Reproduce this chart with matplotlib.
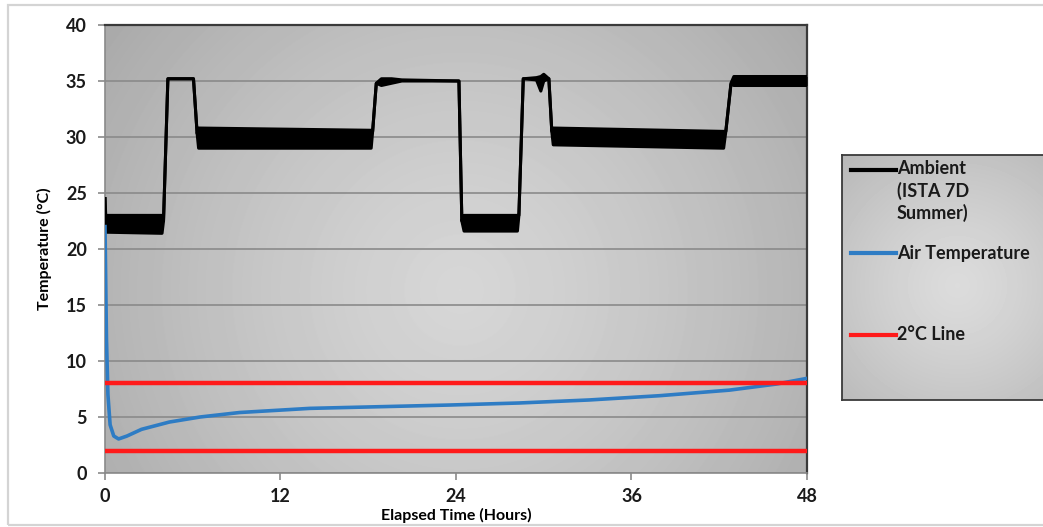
import matplotlib
matplotlib.use("Agg")
import matplotlib.pyplot as plt
import numpy as np
from matplotlib.patches import Rectangle
from matplotlib.lines import Line2D

# ---- data ----
# ambient (ISTA 7D summer): envelope of the noisy trace, lower / upper
amb_t  = [0.0, 0.05, 3.9, 4.0, 4.3, 6.05, 6.3, 6.4, 18.2, 18.3, 18.55, 18.9, 19.6, 20.3,
          24.2, 24.4, 24.55, 28.2, 28.3, 28.6, 29.5, 29.8, 30.0, 30.35, 30.55, 30.65,
          42.3, 42.45, 42.8, 43.0, 48.0]
amb_lo = [24.5, 21.5, 21.4, 22.5, 35.2, 35.2, 30.3, 29.0, 29.0, 30.5, 34.8, 34.6, 34.8, 35.0,
          35.0, 22.5, 21.6, 21.6, 23.0, 35.2, 35.1, 34.1, 35.0, 35.2, 30.5, 29.3,
          29.0, 30.5, 34.7, 34.6, 34.6]
amb_hi = [24.5, 23.0, 23.0, 22.5, 35.2, 35.2, 30.3, 30.8, 30.6, 30.5, 34.8, 35.2, 35.2, 35.1,
          35.0, 22.5, 23.0, 23.0, 23.0, 35.2, 35.3, 35.4, 35.6, 35.2, 30.5, 30.8,
          30.5, 30.5, 34.8, 35.4, 35.4]

# air temperature
air_t = [0.0, 0.05, 0.1, 0.2, 0.35, 0.6, 0.93, 1.5, 2.5, 4.4, 6.5, 9.2, 14.0, 18.8,
         23.6, 28.3, 33.1, 37.9, 42.7, 45.9, 48.0]
air_v = [22.0, 17.0, 12.0, 7.0, 4.3, 3.3, 3.04, 3.3, 3.9, 4.55, 5.0, 5.4, 5.77, 5.92,
         6.07, 6.25, 6.52, 6.9, 7.4, 7.94, 8.45]

# 2 °C line band
limit_lo = 2
limit_hi = 8

x_ticks = [0, 12, 24, 36, 48]
y_ticks = [0, 5, 10, 15, 20, 25, 30, 35, 40]

font = "Lato"

fig = plt.figure(figsize=(10.43, 5.27), dpi=100)

# light grey outer frame of the chart
fig.add_artist(Rectangle((8 / 1043, 2 / 527), 1.2, 520 / 527, transform=fig.transFigure,
                         fill=False, edgecolor="#d4d4d4", linewidth=1.6))

ax = fig.add_axes([105 / 1043, 1 - 473 / 527, 702 / 1043, 448 / 527])


def radial(nx, ny, cx, cy, r, light, dark):
    xx, yy = np.meshgrid(np.arange(nx), np.arange(ny))
    d = np.clip(np.hypot(xx - cx, yy - cy) / r, 0, 1)
    return light - (light - dark) * d ** 1.3


bg = radial(702, 448, 355, 265, 430, 0.84, 0.67)
ax.imshow(bg, extent=[0, 48, 0, 40], origin="upper", aspect="auto", cmap="gray",
          vmin=0, vmax=1, interpolation="bilinear", zorder=0)

ax.set_xlim(0, 48)
ax.set_ylim(0, 40)
ax.set_axisbelow(True)
ax.yaxis.grid(True, color="#8a8a8a", linewidth=1.2)

# series
ax.fill_between(amb_t, amb_lo, amb_hi, color="black", linewidth=0, zorder=3)
ax.plot(amb_t, amb_lo, color="black", linewidth=2.2, zorder=3)
ax.plot(amb_t, amb_hi, color="black", linewidth=2.2, zorder=3)
ax.plot(air_t, air_v, color="#2e7cc4", linewidth=2.6, zorder=4)
ax.plot([0, 48], [limit_lo, limit_lo], color="#ff1a1a", linewidth=3.2, zorder=5)
ax.plot([0, 48], [limit_hi, limit_hi], color="#ff1a1a", linewidth=3.2, zorder=5)

for s in ["top", "right"]:
    ax.spines[s].set_color("#3a3a3a")
    ax.spines[s].set_linewidth(1.6)
for s in ["left", "bottom"]:
    ax.spines[s].set_color("#8a8a8a")
    ax.spines[s].set_linewidth(1.2)

ax.set_xticks(x_ticks)
ax.set_yticks(y_ticks)
ax.tick_params(axis="both", direction="out", length=5, color="#8a8a8a", width=1.2,
               labelsize=13, pad=8)
ax.tick_params(axis="x", pad=6)
for lab in ax.get_xticklabels() + ax.get_yticklabels():
    lab.set_fontfamily(font)
    lab.set_fontweight("bold")
    lab.set_color("#1a1a1a")

ax.set_xlabel("Elapsed Time (Hours)", fontsize=11.5, fontweight="bold", family=font,
              labelpad=2)
ax.set_ylabel("Temperature (°C)", fontsize=11.5, fontweight="bold", family=font,
              labelpad=10)

# legend box (drawn by hand, runs off the right edge as in the source)
lx0, ly0, lx1, ly1 = 842, 155, 1060, 400
lax = fig.add_axes([lx0 / 1043, 1 - ly1 / 527, (lx1 - lx0) / 1043, (ly1 - ly0) / 527])
lax.imshow(radial(lx1 - lx0, ly1 - ly0, 115, 130, 190, 0.86, 0.70), extent=[0, 1, 0, 1],
           origin="upper", aspect="auto", cmap="gray", vmin=0, vmax=1,
           interpolation="bilinear")
lax.set_xlim(0, 1)
lax.set_ylim(0, 1)
lax.set_xticks([])
lax.set_yticks([])
for s in lax.spines.values():
    s.set_color("#3a3a3a")
    s.set_linewidth(1.3)

entries = [("Ambient\n(ISTA 7D\nSummer)", "black", 170),
           ("Air Temperature", "#2e7cc4", 253),
           ("2°C Line", "#ff1a1a", 335)]
for label, col, py in entries:
    yy = 1 - py / 527
    fig.add_artist(Line2D([851 / 1043, 896 / 1043], [yy, yy], color=col, linewidth=3,
                          transform=fig.transFigure))
    if "\n" in label:
        fig.text(897 / 1043, yy + 10 / 527, label, fontsize=13, fontweight="bold",
                 family=font, color="#1a1a1a", va="top", linespacing=1.3)
    else:
        fig.text(897 / 1043, yy, label, fontsize=13, fontweight="bold", family=font,
                 color="#1a1a1a", va="center")

fig.savefig("out.png", dpi=100)
